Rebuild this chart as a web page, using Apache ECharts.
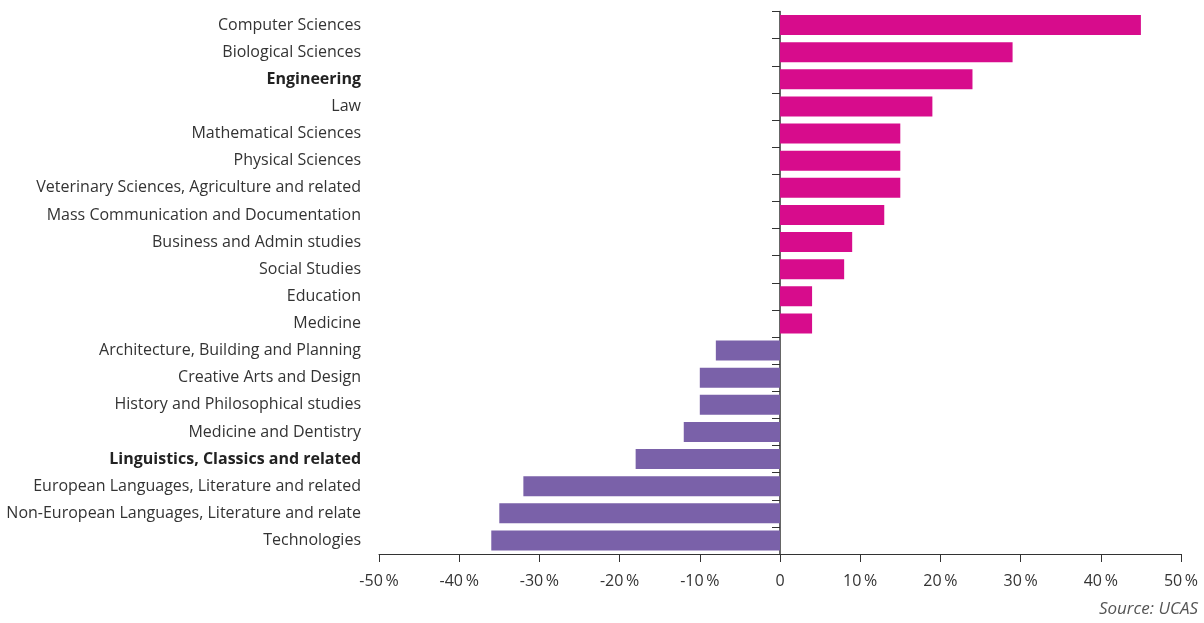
<!DOCTYPE html>
<html>
<head>
<meta charset="utf-8">
<script src="https://cdn.jsdelivr.net/npm/echarts@6/dist/echarts.min.js"></script>
<style>
  html, body { margin: 0; padding: 0; background: #fff; }
  #chart { width: 1204px; height: 623px; }
</style>
</head>
<body>
<div id="chart"></div>
<script>
// Subject areas, top to bottom
const categories = [
  'Computer Sciences',
  'Biological Sciences',
  'Engineering',
  'Law',
  'Mathematical Sciences',
  'Physical Sciences',
  'Veterinary Sciences, Agriculture and related',
  'Mass Communication and Documentation',
  'Business and Admin studies',
  'Social Studies',
  'Education',
  'Medicine',
  'Architecture, Building and Planning',
  'Creative Arts and Design',
  'History and Philosophical studies',
  'Medicine and Dentistry',
  'Linguistics, Classics and related',
  'European Languages, Literature and related',
  'Non-European Languages, Literature and relate',
  'Technologies'
];

// Percentage change per subject
const changes = [45, 29, 24, 19, 15, 15, 15, 13, 9, 8, 4, 4,
                 -8, -10, -10, -12, -18, -32, -35, -36];

// Subjects whose labels are set in bold
const boldCategories = ['Engineering', 'Linguistics, Classics and related'];

// Value axis ticks
const xTicks = [-50, -40, -30, -20, -10, 0, 10, 20, 30, 40, 50];

const sourceText = 'Source: UCAS';

const POS = '#d70c8c';
const NEG = '#7a61a9';
const INK = '#333333';
const FONT = '"Open Sans", "Noto Sans", sans-serif';

const chart = echarts.init(document.getElementById('chart'));

chart.setOption({
  animation: false,
  backgroundColor: '#ffffff',
  grid: {
    left: 379, right: 23, top: 11.5, bottom: 69,
    containLabel: false,
    outerBoundsMode: 'none'
  },
  xAxis: {
    type: 'value',
    min: xTicks[0],
    max: xTicks[xTicks.length - 1],
    interval: 10,
    axisLine: { show: true, onZero: false, lineStyle: { color: INK, width: 1 } },
    axisTick: { show: true, length: 8, lineStyle: { color: INK } },
    splitLine: { show: false },
    axisLabel: {
      margin: 19,
      color: INK,
      fontFamily: FONT,
      fontSize: 16,
      formatter: v => v === 0 ? '0' : v + '\u2009%'
    }
  },
  yAxis: {
    // line and ticks run through zero; labels stay at the grid's left edge
    type: 'category',
    data: categories,
    inverse: true,
    position: 'left',
    axisLine: { show: true, onZero: true, lineStyle: { color: INK, width: 1.5 } },
    axisTick: { show: true, length: 8, lineStyle: { color: INK } },
    axisLabel: {
      margin: 18,
      color: INK,
      fontFamily: FONT,
      fontSize: 16,
      formatter: v => boldCategories.includes(v) ? '{b|' + v + '}' : v,
      rich: {
        b: { fontWeight: 'bold', color: '#222', fontFamily: FONT, fontSize: 16 }
      }
    }
  },
  series: [{
    type: 'bar',
    data: changes,
    barCategoryGap: '26%',
    itemStyle: {
      color: p => p.value >= 0 ? POS : NEG
    }
  }],
  graphic: [{
    type: 'text',
    right: 6,
    top: 601,
    style: {
      text: sourceText,
      fill: '#555',
      font: 'italic 17px ' + FONT
    }
  }]
});
</script>
</body>
</html>
